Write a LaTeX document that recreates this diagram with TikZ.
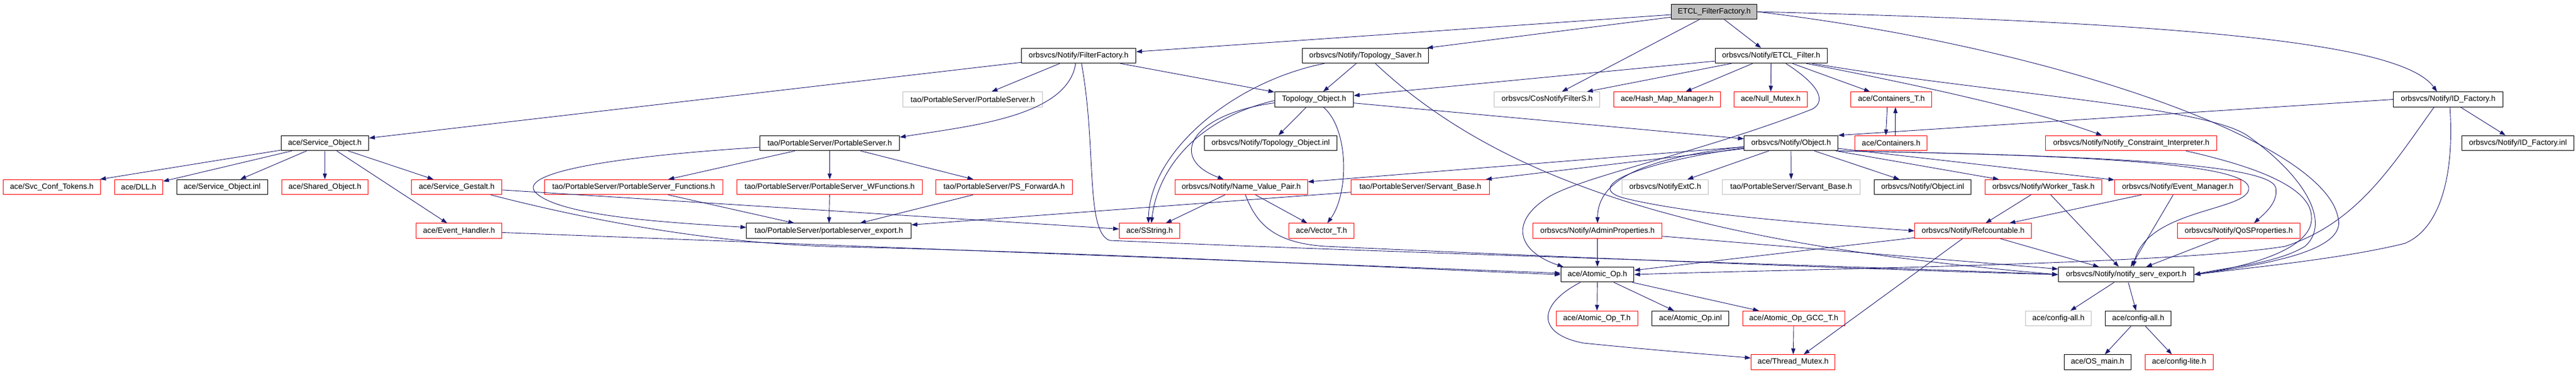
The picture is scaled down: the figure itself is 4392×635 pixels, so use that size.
\documentclass[tikz,border=0pt]{standalone}
\usepackage{fontspec}
\setmainfont{Liberation Sans}
\usetikzlibrary{arrows.meta}

\definecolor{edgeblue}{HTML}{191970}
\definecolor{hdrred}{HTML}{FF0000}
\definecolor{hdrgrey}{HTML}{BFBFBF}

\newcommand{\hdrfont}{\fontsize{13.2pt}{15pt}\selectfont}
% y of the ranks, in pixels from the top
\newcommand{\rankA}{20}
\newcommand{\rankB}{95}
\newcommand{\rankC}{169.5}
\newcommand{\rankD}{244}
\newcommand{\rankE}{319}
\newcommand{\rankF}{393.7}
\newcommand{\rankG}{468.2}
\newcommand{\rankH}{543}
\newcommand{\rankI}{617.5}

\tikzstyle{hdr}=[draw=black,line width=1pt,minimum height=25.5pt,inner sep=0pt,font=\hdrfont]
\tikzstyle{redhdr}=[hdr,draw=hdrred]
\tikzstyle{greyhdr}=[hdr,draw=hdrgrey]
\tikzstyle{roothdr}=[hdr,fill=hdrgrey]
\tikzstyle{edge}=[draw=edgeblue,line width=0.9pt,-{Triangle[length=10pt,width=7pt]}]

\begin{document}
\begin{tikzpicture}[x=1pt,y=-1pt]
    \useasboundingbox (0,0) rectangle (4392,635);
    % First we draw the headers, rank by rank
    \node[roothdr, minimum width=146.2pt] (etclff) at (2922.7,\rankA) {ETCL\_FilterFactory.h};

    \node[hdr, minimum width=195.4pt] (filterfac) at (1838.9,\rankB) {orbsvcs/Notify/FilterFactory.h};
    \node[hdr, minimum width=215.2pt] (toposaver) at (2327.9,\rankB) {orbsvcs/Notify/Topology\_Saver.h};
    \node[hdr, minimum width=191.1pt] (etclfilter) at (3019.7,\rankB) {orbsvcs/Notify/ETCL\_Filter.h};

    \node[greyhdr, minimum width=237.8pt] (psgrey) at (1658.6,\rankC) {tao/PortableServer/PortableServer.h};
    \node[hdr, minimum width=134.5pt] (topoobj) at (2240.4,\rankC) {Topology\_Object.h};
    \node[greyhdr, minimum width=179.8pt] (cosfilter) at (2637.8,\rankC) {orbsvcs/CosNotifyFilterS.h};
    \node[redhdr, minimum width=182.3pt] (hashmap) at (2842.5,\rankC) {ace/Hash\_Map\_Manager.h};
    \node[redhdr, minimum width=125.5pt] (nullmutex) at (3019,\rankC) {ace/Null\_Mutex.h};
    \node[redhdr, minimum width=137.8pt] (contT) at (3224.7,\rankC) {ace/Containers\_T.h};
    \node[hdr, minimum width=186.5pt] (idfac) at (4174,\rankC) {orbsvcs/Notify/ID\_Factory.h};

    \node[hdr, minimum width=149.6pt] (svcobj) at (553.8,\rankD) {ace/Service\_Object.h};
    \node[hdr, minimum width=238pt] (psblack) at (1414.6,\rankD) {tao/PortableServer/PortableServer.h};
    \node[hdr, minimum width=225.7pt] (topoinl) at (2166.5,\rankD) {orbsvcs/Notify/Topology\_Object.inl};
    \node[hdr, minimum width=159.9pt] (object) at (3053.7,\rankD) {orbsvcs/Notify/Object.h};
    \node[redhdr, minimum width=122.7pt] (containers) at (3224.3,\rankD) {ace/Containers.h};
    \node[redhdr, minimum width=291.6pt] (constraint) at (3633.7,\rankD) {orbsvcs/Notify/Notify\_Constraint\_Interpreter.h};
    \node[hdr, minimum width=191.1pt] (idinl) at (4293,\rankD) {orbsvcs/Notify/ID\_Factory.inl};

    \node[redhdr, minimum width=166.1pt] (svcconf) at (88.3,\rankE) {ace/Svc\_Conf\_Tokens.h};
    \node[redhdr, minimum width=82.1pt] (dll) at (236.5,\rankE) {ace/DLL.h};
    \node[hdr, minimum width=155.4pt] (svcinl) at (378.7,\rankE) {ace/Service\_Object.inl};
    \node[redhdr, minimum width=147.7pt] (sharedobj) at (553.9,\rankE) {ace/Shared\_Object.h};
    \node[redhdr, minimum width=154.3pt] (gestalt) at (778.6,\rankE) {ace/Service\_Gestalt.h};
    \node[redhdr, minimum width=303.9pt] (psfunc) at (1080.4,\rankE) {tao/PortableServer/PortableServer\_Functions.h};
    \node[redhdr, minimum width=316.3pt] (pswfunc) at (1414.6,\rankE) {tao/PortableServer/PortableServer\_WFunctions.h};
    \node[redhdr, minimum width=233.1pt] (psfwd) at (1712,\rankE) {tao/PortableServer/PS\_ForwardA.h};
    \node[redhdr, minimum width=226pt] (nvpair) at (2116.3,\rankE) {orbsvcs/Notify/Name\_Value\_Pair.h};
    \node[redhdr, minimum width=235.5pt] (servred) at (2421.7,\rankE) {tao/PortableServer/Servant\_Base.h};
    \node[greyhdr, minimum width=146.7pt] (extc) at (2839.1,\rankE) {orbsvcs/NotifyExtC.h};
    \node[greyhdr, minimum width=235pt] (servgrey) at (3053.9,\rankE) {tao/PortableServer/Servant\_Base.h};
    \node[hdr, minimum width=165.1pt] (objinl) at (3278,\rankE) {orbsvcs/Notify/Object.inl};
    \node[redhdr, minimum width=199.4pt] (worker) at (3483.9,\rankE) {orbsvcs/Notify/Worker\_Task.h};
    \node[redhdr, minimum width=215.1pt] (evmgr) at (3713,\rankE) {orbsvcs/Notify/Event\_Manager.h};

    \node[redhdr, minimum width=146.3pt] (evhandler) at (782.6,\rankF) {ace/Event\_Handler.h};
    \node[hdr, minimum width=280.5pt] (psexport) at (1413.2,\rankF) {tao/PortableServer/portableserver\_export.h};
    \node[redhdr, minimum width=103.4pt] (sstring) at (1960,\rankF) {ace/SString.h};
    \node[redhdr, minimum width=111.4pt] (vector) at (2253,\rankF) {ace/Vector\_T.h};
    \node[redhdr, minimum width=220.4pt] (adminprop) at (2723.7,\rankF) {orbsvcs/Notify/AdminProperties.h};
    \node[redhdr, minimum width=199pt] (refcount) at (3364.1,\rankF) {orbsvcs/Notify/Refcountable.h};
    \node[redhdr, minimum width=208.9pt] (qosprop) at (3817,\rankF) {orbsvcs/Notify/QoSProperties.h};

    \node[hdr, minimum width=124.6pt] (atomic) at (2723.5,\rankG) {ace/Atomic\_Op.h};
    \node[hdr, minimum width=231.4pt] (notifyexp) at (3625,\rankG) {orbsvcs/Notify/notify\_serv\_export.h};

    \node[redhdr, minimum width=139.2pt] (atomicT) at (2722.7,\rankH) {ace/Atomic\_Op\_T.h};
    \node[hdr, minimum width=131.2pt] (atomicinl) at (2882.1,\rankH) {ace/Atomic\_Op.inl};
    \node[redhdr, minimum width=173.7pt] (atomicgcc) at (3058.2,\rankH) {ace/Atomic\_Op\_GCC\_T.h};
    \node[greyhdr, minimum width=112.4pt] (cfggrey) at (3509.5,\rankH) {ace/config-all.h};
    \node[hdr, minimum width=112.4pt] (cfgall) at (3645.5,\rankH) {ace/config-all.h};

    \node[redhdr, minimum width=143.4pt] (thread) at (3057.2,\rankI) {ace/Thread\_Mutex.h};
    \node[hdr, minimum width=114pt] (osmain) at (3576.3,\rankI) {ace/OS\_main.h};
    \node[redhdr, minimum width=116pt] (cfglite) at (3715.3,\rankI) {ace/config-lite.h};

    % Straight includes
    \foreach \source/\dest in {etclff/filterfac, etclff/toposaver, etclff/cosfilter, etclff/etclfilter,
        filterfac/svcobj, filterfac/psgrey, filterfac/topoobj, toposaver/topoobj,
        etclfilter/topoobj, etclfilter/cosfilter, etclfilter/hashmap, etclfilter/nullmutex, etclfilter/contT,
        topoobj/topoinl, topoobj/object, idfac/idinl,
        svcobj/svcconf, svcobj/dll, svcobj/svcinl, svcobj/sharedobj, svcobj/gestalt, svcobj/evhandler,
        psblack/psfunc, psblack/pswfunc, psblack/psfwd,
        object/nvpair, object/servred, object/extc, object/servgrey, object/objinl, object/worker, object/evmgr,
        gestalt/sstring, evhandler/atomic, psfunc/psexport, pswfunc/psexport, psfwd/psexport, servred/psexport,
        nvpair/sstring, nvpair/vector, worker/refcount, worker/notifyexp, evmgr/refcount, evmgr/notifyexp,
        adminprop/atomic, adminprop/notifyexp, refcount/atomic, refcount/thread, refcount/notifyexp,
        qosprop/notifyexp, atomic/atomicT, atomic/atomicinl, atomic/atomicgcc, atomicgcc/thread,
        notifyexp/cfggrey, notifyexp/cfgall, cfgall/osmain, cfgall/cfglite}
        \path[edge] (\source) -- (\dest);

    \path[edge] (idfac.west) -- (object.north east);
    \path[edge] ([xshift=-7pt]contT.south) -- ([xshift=-9pt]containers.north);
    \path[edge] ([xshift=7pt]containers.north) -- ([xshift=7pt]contT.south);

    % Curved includes
    \path[edge] (etclff.east) .. controls (3800,40) and (4100,80) .. ([xshift=-19pt]idfac.north);
    \path[edge] (etclff.east) .. controls (3500,80) and (3960,240) .. (3986,370)
        .. controls (4005,430) and (3850,452) .. (notifyexp.east);
    \path[edge] ([xshift=-5pt]filterfac.south) .. controls (1820,200) and (1650,215) .. ([yshift=10pt]psblack.east);
    \path[edge] ([xshift=5pt]filterfac.south) .. controls (1870,250) and (1850,395) .. (1892,410)
        .. controls (2400,432) and (3200,455) .. (notifyexp.west);
    \path[edge] ([xshift=-70pt]toposaver.south) .. controls (2100,140) and (1960,260) .. ([xshift=-2pt]sstring.north);
    \path[edge] ([xshift=17pt]toposaver.south) .. controls (2580,330) and (2950,420) .. (notifyexp.west);
    \path[edge] ([xshift=25pt]etclfilter.south) .. controls (3110,150) and (3110,175) .. (3090,186)
        .. controls (2900,260) and (2700,300) .. (2640,336)
        .. controls (2570,380) and (2590,430) .. ([xshift=-58pt]atomic.north);
    \path[edge] ([xshift=60pt]etclfilter.south) .. controls (3350,160) and (3500,200) .. ([xshift=-50pt]constraint.north);
    \path[edge] ([xshift=70pt]etclfilter.south) .. controls (3400,160) and (3750,180) .. (3830,230)
        .. controls (3930,300) and (3975,380) .. (3930,420)
        .. controls (3880,450) and (3800,455) .. (notifyexp.east);
    \path[edge] ([xshift=93pt]constraint.south) .. controls (3850,285) and (3940,320) .. (3941,370)
        .. controls (3945,425) and (3830,455) .. (notifyexp.east);
    \path[edge] ([yshift=-6pt]topoobj.west) .. controls (2030,195) and (1990,270) .. ([xshift=-30pt]nvpair.north);
    \path[edge] ([yshift=-2pt]topoobj.west) .. controls (2050,200) and (1975,280) .. ([xshift=3pt]sstring.north);
    \path[edge] ([xshift=16pt]topoobj.south) .. controls (2300,220) and (2300,330) .. ([xshift=10pt]vector.north);
    \path[edge] ([xshift=-24pt]idfac.south) .. controls (4080,280) and (4020,380) .. (3896,420)
        .. controls (3700,452) and (3000,460) .. (atomic.east);
    \path[edge] ([xshift=3pt]idfac.south) .. controls (4185,300) and (4160,390) .. (4100,415)
        .. controls (4000,440) and (3850,455) .. (notifyexp.east);
    \path[edge] ([yshift=-7pt]psblack.west) .. controls (1000,270) and (880,300) .. (915,330)
        .. controls (960,370) and (1150,380) .. ([yshift=6pt]psexport.west);
    \path[edge] ([xshift=58pt]gestalt.south) .. controls (1100,400) and (1300,418) .. (1440,421)
        .. controls (1900,432) and (2400,458) .. (atomic.west);
    \path[edge] ([yshift=-6pt]object.west) .. controls (2850,265) and (2724,290) .. (adminprop.north);
    \path[edge] ([yshift=-8pt]object.west) .. controls (2780,280) and (2700,320) .. (2770,338)
        .. controls (2900,370) and (3150,385) .. (refcount.west);
    \path[edge] (object.south east) .. controls (3500,264) and (3870,275) .. (3880,320)
        .. controls (3885,345) and (3860,365) .. ([xshift=26pt]qosprop.north);
    \path[edge] (object.south east) .. controls (3500,264) and (3830,275) .. (3834,320)
        .. controls (3838,360) and (3660,355) .. ([xshift=12pt]notifyexp.north);
    \path[edge] ([xshift=7pt]nvpair.south) .. controls (2140,375) and (2165,414) .. (2260,420)
        .. controls (2700,440) and (3200,460) .. (notifyexp.west);
    \path[edge] ([xshift=-29pt]atomic.south) .. controls (2620,520) and (2620,570) .. (2700,585)
        .. controls (2850,600) and (2950,607) .. ([yshift=7pt]thread.west);
\end{tikzpicture}
\end{document}
